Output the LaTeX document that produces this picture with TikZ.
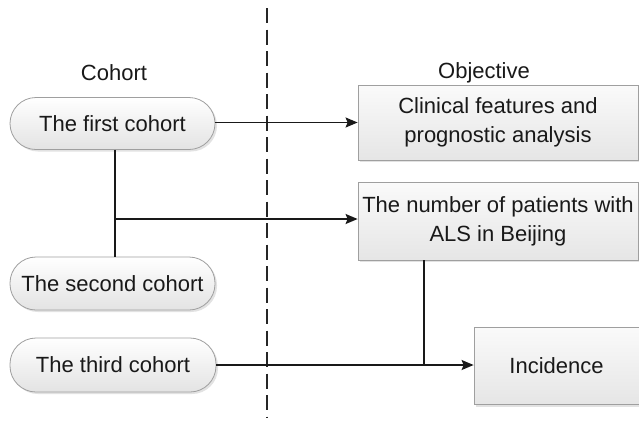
\documentclass[tikz,border=0pt]{standalone}
\usepackage{fontspec}
\setmainfont{Liberation Sans}
\usetikzlibrary{arrows.meta,shadows,calc}
\begin{document}
\begin{tikzpicture}[x=1pt,y=-1pt,
  every node/.style={font=\fontsize{22}{29}\selectfont, text=black!90},
  pill/.style={draw=gray!75, line width=0.8pt, rounded corners=26pt, top color=white, bottom color=gray!22,
    drop shadow={shadow xshift=2pt, shadow yshift=-2pt, fill=gray!50, opacity=0.45}, inner sep=0pt},
  obox/.style={draw=gray!75, line width=0.8pt, top color=white!96!gray, bottom color=gray!20,
    drop shadow={shadow xshift=2pt, shadow yshift=-2pt, fill=gray!50, opacity=0.45}, align=center, inner sep=0pt},
  conn/.style={line width=1.5pt, black!90},
  arr/.style={conn, -{Stealth[length=12pt, width=10pt, inset=2pt]}}
]
\useasboundingbox[fill=white] (0,0) rectangle (639,421);
% dashed separator
\coordinate (dtop) at (267,8);
\coordinate (dbot) at (267,418);
\draw[line width=1.8pt, black!85, dash pattern=on 15pt off 6.5pt] (dtop) -- (dbot);
% headers
\node (hcoh) at (114,73) {Cohort};
\node (hobj) at (484,73) {Objective};
% cohorts
\node[pill, minimum width=205pt, minimum height=52pt] (c1) at (112.5,123.5) {The first cohort};
\node[pill, minimum width=205pt, minimum height=53pt] (c2) at (112.5,283.5) {The second cohort};
\node[pill, minimum width=206pt, minimum height=54pt] (c3) at (113,365) {The third cohort};
% objectives
\node[obox, minimum width=280pt, minimum height=75pt] (o1) at (498,122.5) {Clinical features and\\prognostic analysis};
\node[obox, minimum width=280pt, minimum height=78pt] (o2) at (498,221) {The number of patients with\\ALS in Beijing};
\node[obox, minimum width=165pt, minimum height=77pt, text width=165pt] (o3) at (556.5,366) {Incidence};
% connectors
\coordinate (j1) at (115,219);
\coordinate (j2) at (424,365);
\draw[arr] (c1.east |- o1.west) -- (o1.west);
\draw[conn] (c1.south -| j1) -- (c2.north -| j1);
\draw[arr] (j1) -- (j1 -| o2.west);
\draw[arr] (c3.east |- j2) -- (j2 -| o3.west);
\draw[conn] (o2.south -| j2) -- (j2);
\end{tikzpicture}
\end{document}
